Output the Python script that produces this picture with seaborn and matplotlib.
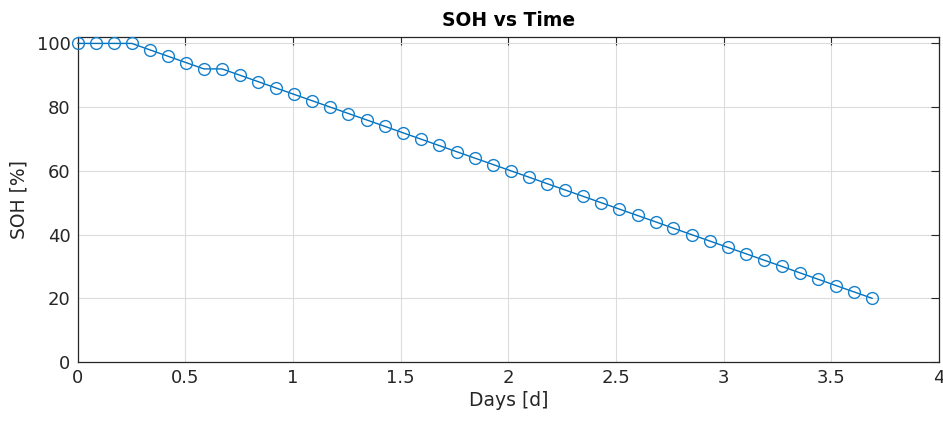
import matplotlib
matplotlib.use("Agg")
import matplotlib.pyplot as plt
import seaborn as sns
import pandas as pd

# zeit in tagen (ca. alle 2 h ein messpunkt)
days = [0.0, 0.084, 0.168, 0.252, 0.335, 0.419, 0.503, 0.587, 0.671, 0.755,
        0.839, 0.922, 1.006, 1.090, 1.174, 1.258, 1.342, 1.426, 1.509, 1.593,
        1.677, 1.761, 1.845, 1.929, 2.013, 2.097, 2.180, 2.264, 2.348, 2.432,
        2.516, 2.600, 2.684, 2.767, 2.851, 2.935, 3.019, 3.103, 3.187, 3.271,
        3.354, 3.438, 3.522, 3.606, 3.690]
soh = [100, 100, 100, 100, 98, 96, 94, 92, 92, 90,
       88, 86, 84, 82, 80, 78, 76, 74, 72, 70,
       68, 66, 64, 62, 60, 58, 56, 54, 52, 50,
       48, 46, 44, 42, 40, 38, 36, 34, 32, 30,
       28, 26, 24, 22, 20]

df = pd.DataFrame({"Days [d]": days, "SOH [%]": soh})

sns.set_theme(style="whitegrid")
plt.rcParams['font.family'] = ['DejaVu Sans']

fig = plt.figure(figsize=(9.43, 4.21), dpi=100)
ax = fig.add_axes([0.0822, 0.140, 0.9136, 0.772])

sns.lineplot(data=df, x="Days [d]", y="SOH [%]", ax=ax, color="#0072BD",
             linewidth=1.0, marker="o", markersize=8.5,
             markerfacecolor="none", markeredgecolor="#1580cc",
             markeredgewidth=1.0, clip_on=False, zorder=5)

ax.set_xlim(0, 4)
ax.set_ylim(0, 102)
ax.set_xticks([0, 0.5, 1, 1.5, 2, 2.5, 3, 3.5, 4])
ax.set_xticklabels(["0", "0.5", "1", "1.5", "2", "2.5", "3", "3.5", "4"])
ax.set_yticks([0, 20, 40, 60, 80, 100])

ax.grid(True, color="#dcdcdc", linewidth=0.8)
for s in ax.spines.values():
    s.set_color("#262626")
    s.set_linewidth(0.9)
ax.tick_params(direction="in", length=6, width=0.8, colors="#262626",
               top=True, right=True, labelsize=13, pad=5)
ax.set_xlabel("Days [d]", fontsize=13.5, color="#262626", labelpad=3)
ax.set_ylabel("SOH [%]", fontsize=13.5, color="#262626", labelpad=6)
ax.set_title("SOH vs Time", fontsize=13.5, fontweight="bold", color="black", pad=8)

fig.savefig("out.png", dpi=100)
